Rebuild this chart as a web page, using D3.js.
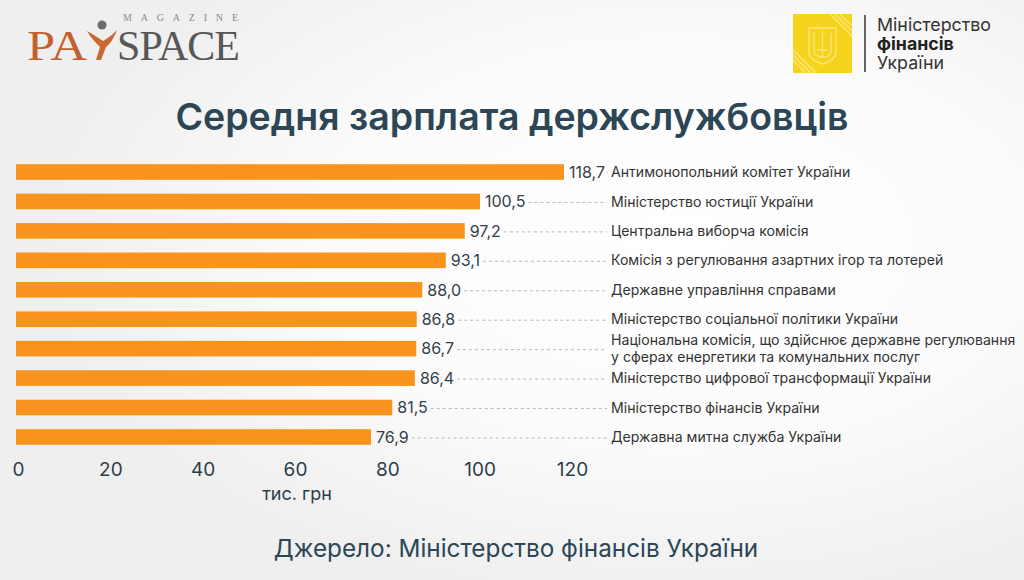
<!DOCTYPE html>
<html>
<head>
<meta charset="utf-8">
<script src="https://cdn.jsdelivr.net/npm/d3@7"></script>
<style>
  html, body { margin: 0; padding: 0; background: #f2f2f2; }
  svg { display: block; }
</style>
</head>
<body>
<svg id="chart" width="1024" height="580"></svg>
<script>
// ---- data ----
const categories = [
  "Антимонопольний комітет України",
  "Міністерство юстиції України",
  "Центральна виборча комісія",
  "Комісія з регулювання азартних ігор та лотерей",
  "Державне управління справами",
  "Міністерство соціальної політики України",
  "Національна комісія, що здійснює державне регулювання\nу сферах енергетики та комунальних послуг",
  "Міністерство цифрової трансформації України",
  "Міністерство фінансів України",
  "Державна митна служба України"
];
const values = [118.7, 100.5, 97.2, 93.1, 88.0, 86.8, 86.7, 86.4, 81.5, 76.9];
const tickValues = [0, 20, 40, 60, 80, 100, 120];
const titleText = "Середня зарплата держслужбовців";
const unitText = "тис. грн";
const sourceText = "Джерело: Міністерство фінансів України";

// ---- drawing ----
const svg = d3.select("#chart");
const W = 1024, H = 580;
const FONT = "Inter, 'Noto Sans', sans-serif";

// background
const defs = svg.append("defs");
const rg = defs.append("radialGradient").attr("id", "bg")
  .attr("cx", 0.66).attr("cy", 0.42).attr("r", 0.62);
rg.append("stop").attr("offset", "0%").attr("stop-color", "#ffffff");
rg.append("stop").attr("offset", "55%").attr("stop-color", "#fbfbfb");
rg.append("stop").attr("offset", "100%").attr("stop-color", "#efefef");
svg.append("rect").attr("width", W).attr("height", H).attr("fill", "url(#bg)");

// scales
const x = d3.scaleLinear().domain([0, 120]).range([16, 570]);
const y = d3.scaleBand().domain(categories).range([157.3, 451.7])
  .paddingInner(0.47).paddingOuter(0.235);

// title
svg.append("text").attr("x", 512).attr("y", 130)
  .attr("text-anchor", "middle").attr("font-family", FONT)
  .attr("font-size", 37.5).attr("font-weight", 600).attr("fill", "#2c4655")
  .text(titleText);

// bars
const rows = svg.append("g").selectAll("g").data(categories).join("g");
rows.append("rect")
  .attr("x", x(0)).attr("y", d => y(d))
  .attr("width", (d, i) => x(values[i]) - x(0))
  .attr("height", y.bandwidth())
  .attr("fill", "#f8931c");

const vlabels = rows.append("text")
  .attr("x", (d, i) => x(values[i]) + 5)
  .attr("y", d => y(d) + y.bandwidth() / 2)
  .attr("dy", "0.36em")
  .attr("font-family", FONT).attr("font-size", 16).attr("fill", "#34404a")
  .text((d, i) => values[i].toFixed(1).replace(".", ","));

const labelX = 611;
vlabels.each(function(d, i) {
  const end = x(values[i]) + 5 + this.getComputedTextLength() + 3;
  const cy = y(d) + y.bandwidth() / 2 + 1;
  d3.select(this.parentNode).append("line")
    .attr("x1", end).attr("x2", labelX - 4)
    .attr("y1", cy).attr("y2", cy)
    .attr("stroke", "#b9b9b9").attr("stroke-width", 1)
    .attr("stroke-dasharray", "3,3");
});

const clabels = rows.append("text")
  .attr("x", labelX)
  .attr("y", d => y(d) + y.bandwidth() / 2)
  .attr("font-family", FONT).attr("font-size", 14.1).attr("fill", "#333333");
clabels.each(function(d) {
  const lines = d.split("\n");
  const t = d3.select(this);
  const lh = 16.5;
  lines.forEach((ln, k) => {
    t.append("tspan").attr("x", labelX)
      .attr("dy", k === 0 ? (0.36 - (lines.length - 1) * lh / 2 / 14.1) + "em" : lh)
      .text(ln);
  });
});

// x axis (labels only)
const axis = d3.axisBottom(x).tickValues(tickValues).tickSize(0).tickPadding(0)
  .tickFormat(d3.format("d"));
const ax = svg.append("g").attr("transform", "translate(2,462)").call(axis);
ax.select(".domain").remove();
ax.selectAll("text").attr("font-family", FONT).attr("font-size", 19)
  .attr("fill", "#2e3e48");

svg.append("text").attr("x", x(60) + 4).attr("y", 500)
  .attr("text-anchor", "middle").attr("font-family", FONT)
  .attr("font-size", 18).attr("fill", "#2e3e48").text(unitText);

// source
svg.append("text").attr("x", 516).attr("y", 557)
  .attr("text-anchor", "middle").attr("font-family", FONT)
  .attr("font-size", 24.3).attr("fill", "#2c4655").text(sourceText);

// ---- PaySpace logo ----
const lg = svg.append("g");
lg.append("text").attr("x", 27).attr("y", 60)
  .attr("font-family", "'Liberation Serif', serif").attr("font-size", 42)
  .attr("fill", "#c2612e").attr("textLength", 60).attr("lengthAdjust", "spacingAndGlyphs").text("PA");
lg.append("path")
  .attr("d", "M87,31 C93,34 98,38 103,41 C108,38 112,35 117,30 C114,38 110,44 106,47 L101,60 L96,60 L100,47 C96,43 91,38 87,31 Z")
  .attr("fill", "#c9682f");
lg.append("circle").attr("cx", 102).attr("cy", 25).attr("r", 4.5).attr("fill", "#6d6d6d");
lg.append("text").attr("x", 117).attr("y", 60)
  .attr("font-family", "'Liberation Serif', serif").attr("font-size", 42)
  .attr("fill", "#575757").attr("textLength", 123).text("SPACE");
lg.append("text").attr("x", 123).attr("y", 21)
  .attr("font-family", "'Liberation Serif', serif").attr("font-size", 10)
  .attr("fill", "#8a8a8a").attr("textLength", 115).attr("lengthAdjust", "spacing")
  .text("MAGAZINE");

// ---- Ministry logo ----
const mg = svg.append("g");
mg.append("rect").attr("x", 793).attr("y", 14).attr("width", 59).attr("height", 59).attr("fill", "#f6d31c");
[0, 5, 10].forEach(o => {
  mg.append("line").attr("x1", 830 + o).attr("y1", 14).attr("x2", 852).attr("y2", 36 - o)
    .attr("stroke", "#fbe67a").attr("stroke-width", 1.6);
  mg.append("line").attr("x1", 793).attr("y1", 50 + o).attr("x2", 816 - o).attr("y2", 73)
    .attr("stroke", "#fbe67a").attr("stroke-width", 1.6);
});
mg.append("path")
  .attr("d", "M809,28 L836,28 L836,52 C836,58 829,62 822.5,64 C816,62 809,58 809,52 Z")
  .attr("fill", "none").attr("stroke", "#fbe67a").attr("stroke-width", 1.4);
mg.append("path")
  .attr("d", "M822.5,31 L822.5,58 M814,33 L814,50 C814,55 818,57 822.5,57 C827,57 831,55 831,50 L831,33 M817,50 L828,50")
  .attr("fill", "none").attr("stroke", "#fbe67a").attr("stroke-width", 1.4);
mg.append("line").attr("x1", 865).attr("x2", 865).attr("y1", 15).attr("y2", 72)
  .attr("stroke", "#333").attr("stroke-width", 1.5);
mg.append("text").attr("x", 877).attr("y", 31).attr("font-family", FONT)
  .attr("font-size", 17.8).attr("fill", "#333").text("Міністерство");
mg.append("text").attr("x", 877).attr("y", 50).attr("font-family", FONT)
  .attr("font-size", 17.8).attr("font-weight", 700).attr("fill", "#222").text("фінансів");
mg.append("text").attr("x", 877).attr("y", 69).attr("font-family", FONT)
  .attr("font-size", 17.8).attr("fill", "#333").text("України");
</script>
</body>
</html>
